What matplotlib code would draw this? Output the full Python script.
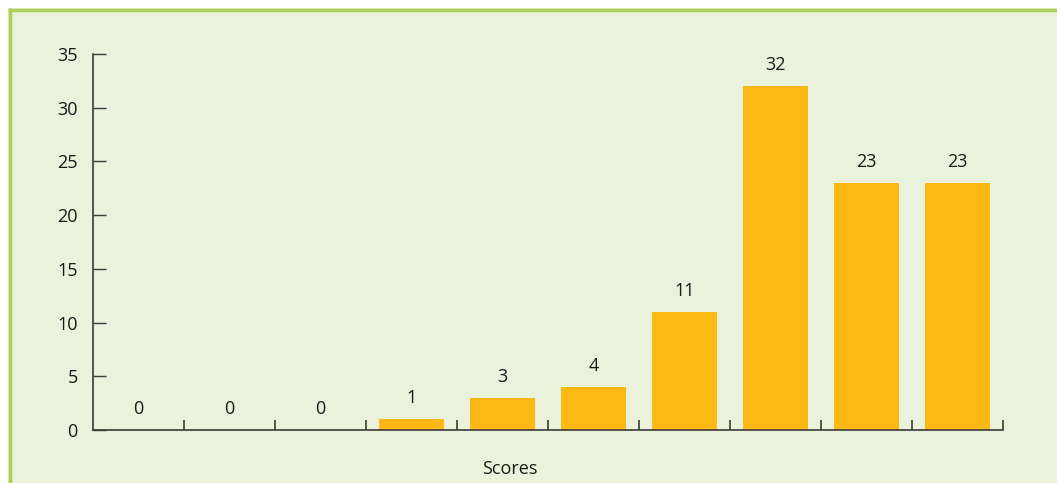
import matplotlib
matplotlib.use("Agg")
import matplotlib.pyplot as plt
from matplotlib.patches import Rectangle
from matplotlib.lines import Line2D

plt.rcParams['font.family'] = ['Open Sans', 'DejaVu Sans']

values = [0, 0, 0, 1, 3, 4, 11, 32, 23, 23]
y_ticks = [0, 5, 10, 15, 20, 25, 30, 35]
x_label = "Scores"

BAR = "#FDB913"
BG = "#EAF2DB"
BORDER = "#A9D15A"
AXC = "#3a3a3a"

W, H = 1057, 483
fig = plt.figure(figsize=(W / 100, H / 100), dpi=100, facecolor="white")

# background panel with green border (top and left)
fig.patches.append(Rectangle((8 / W, 0), 1 - 8 / W, 1 - 8 / H, transform=fig.transFigure,
                             facecolor=BG, edgecolor="none", zorder=-3))
fig.lines.append(Line2D([9.5 / W, 9.5 / W], [0, 1 - 8 / H], transform=fig.transFigure,
                        color=BORDER, lw=2.5, zorder=-2, solid_capstyle="butt"))
fig.lines.append(Line2D([8 / W, 1], [1 - 9.5 / H, 1 - 9.5 / H], transform=fig.transFigure,
                        color=BORDER, lw=2.5, zorder=-2, solid_capstyle="butt"))

ax = fig.add_axes([93 / W, 1 - 430 / H, (1003 - 93) / W, (430 - 54) / H])
ax.set_facecolor("none")

x = list(range(len(values)))
ax.bar(x, values, width=0.725, color=BAR, zorder=2)

for xi, v in zip(x, values):
    ax.annotate(str(v), (xi, v), xytext=(0, 11.5), textcoords="offset points",
                ha="center", va="baseline", fontsize=13, color="#1a1a1a")

ax.set_xlim(-0.5, len(values) - 0.5)
ax.set_ylim(0, 35)
ax.set_yticks(y_ticks)
ax.set_yticklabels([str(t) for t in y_ticks], fontsize=13, color="#1a1a1a")
ax.set_xticks([i + 0.5 for i in range(len(values))])
ax.set_xticklabels([])

ax.tick_params(axis="y", direction="in", length=9.5, width=1, color=AXC, pad=11)
ax.tick_params(axis="x", direction="in", length=7.2, width=1.2, color=AXC)

for s in ["top", "right"]:
    ax.spines[s].set_visible(False)
for s in ["left", "bottom"]:
    ax.spines[s].set_color(AXC)
    ax.spines[s].set_linewidth(1.2)

ax.set_xlabel(x_label, fontsize=13, color="#1a1a1a")
ax.xaxis.set_label_coords((510 - 93) / (1003 - 93), -0.079)

fig.savefig("out.png", dpi=100, facecolor="white")
